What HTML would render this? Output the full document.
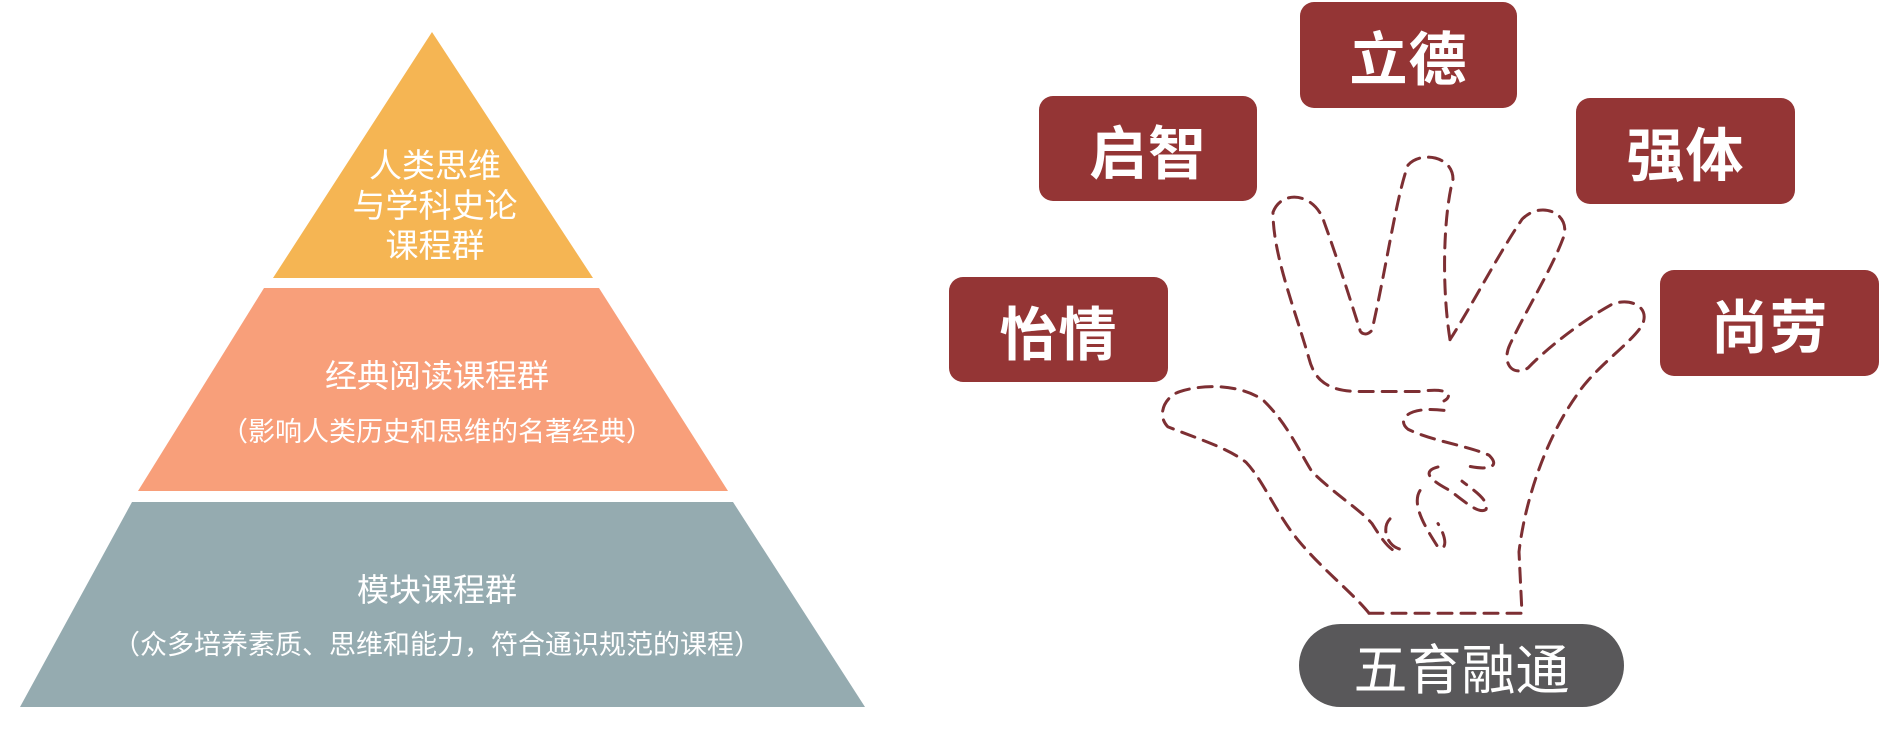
<!DOCTYPE html>
<html><head><meta charset="utf-8"><style>
body{margin:0;width:1879px;height:736px;background:#fff;overflow:hidden;position:relative;font-family:"Liberation Sans","Noto Sans CJK SC",sans-serif}
.t{position:absolute;color:#fff;text-align:center;white-space:nowrap;transform:translateX(-50%)}
.box{position:absolute;background:#943535;border-radius:14px;color:#fff;font-weight:bold;font-size:58px;display:flex;align-items:center;justify-content:center;letter-spacing:1px}
</style></head><body>
<svg width="1879" height="736" style="position:absolute;left:0;top:0">
<polygon points="432,32 593,278 273,278" fill="#f5b553"/>
<polygon points="264,288 599,288 728,491 138,491" fill="#f89f7a"/>
<polygon points="132,502 733,502 865,707 20,707" fill="#95abb0"/>
<g transform="translate(940,0) scale(0.6,0.4717)" fill="none" stroke="#7d2f33" stroke-width="3" stroke-dasharray="14,9" stroke-linecap="round">
<path vector-effect="non-scaling-stroke" d="M715,1300 L970,1300 L965,1170 C975,1060 1010,930 1060,840 C1090,780 1150,730 1170,690 C1185,650 1150,630 1120,645 C1070,680 1010,740 980,780 C955,800 935,770 950,730 C980,650 1020,570 1040,500 C1050,450 1000,425 970,465 C930,540 890,640 850,720"/>
<path vector-effect="non-scaling-stroke" d="M850,720 C835,600 840,450 855,380 C855,330 800,320 780,350 C760,420 745,560 720,700 C710,715 700,705 700,700 C680,620 660,540 640,470 C625,410 570,400 555,450 C555,540 590,650 615,760 C625,810 650,830 700,830 L800,830 C850,820 855,840 840,850"/>
<path vector-effect="non-scaling-stroke" d="M840,870 C780,860 760,890 780,910 C820,935 880,945 915,965 C935,990 915,1000 870,985"/>
<path vector-effect="non-scaling-stroke" d="M830,990 C800,1000 820,1020 850,1040 C880,1070 900,1090 910,1080 C915,1060 890,1040 870,1020"/>
<path vector-effect="non-scaling-stroke" d="M800,1040 C785,1070 810,1120 830,1160 C845,1170 845,1140 830,1110"/>
<path vector-effect="non-scaling-stroke" d="M750,1100 C735,1120 745,1160 770,1165"/>
<path vector-effect="non-scaling-stroke" d="M715,1300 C690,1260 640,1210 600,1150 C560,1090 540,1020 510,980 C480,950 430,930 380,905 C360,880 375,840 400,830 C450,810 510,820 540,850 C580,900 600,960 620,1000 C660,1050 700,1080 720,1110 C735,1140 745,1160 760,1170"/>
</g>
</svg>
<div class="t" style="left:435px;top:146px;font-size:33px;line-height:40px">人类思维<br>与学科史论<br>课程群</div>
<div class="t" style="left:437px;top:351px;font-size:32px">经典阅读课程群</div>
<div class="t" style="left:437px;top:410px;font-size:27px">（影响人类历史和思维的名著经典）</div>
<div class="t" style="left:437px;top:565px;font-size:32px">模块课程群</div>
<div class="t" style="left:437px;top:623px;font-size:27px">（众多培养素质、思维和能力，符合通识规范的课程）</div>
<div class="box" style="left:1300px;top:2px;width:217px;height:106px">立德</div>
<div class="box" style="left:1039px;top:96px;width:218px;height:105px">启智</div>
<div class="box" style="left:1576px;top:98px;width:219px;height:106px">强体</div>
<div class="box" style="left:949px;top:277px;width:219px;height:105px">怡情</div>
<div class="box" style="left:1660px;top:270px;width:219px;height:106px">尚劳</div>
<div style="position:absolute;left:1299px;top:624px;width:325px;height:83px;border-radius:42px;background:#59585a;color:#fff;font-size:54px;display:flex;align-items:center;justify-content:center">五育融通</div>
</body></html>
